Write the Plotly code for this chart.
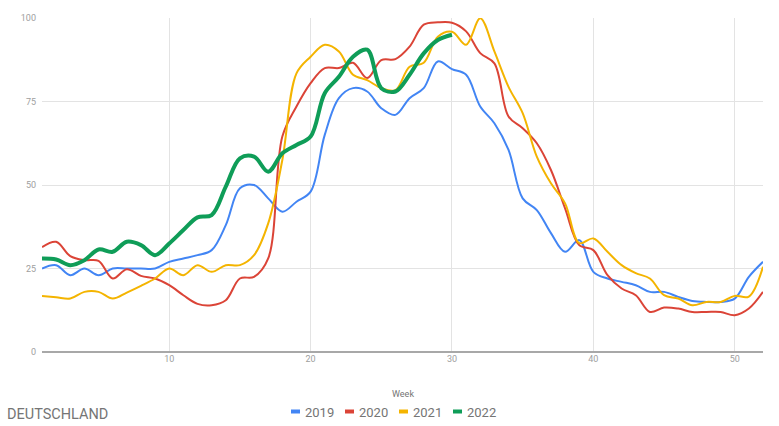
import plotly.graph_objects as go

weeks = list(range(1, 53))

y2019 = [25, 26, 23, 25, 23, 25, 25, 25, 25, 27, 28, 29, 30.5, 38, 49, 50, 46, 42, 45, 48,
         65, 76, 79, 78, 73, 71, 76, 79, 87, 84.7, 83, 73.5, 68.5, 60.5, 46, 42.5, 35.6, 30, 33.5, 24,
         22, 21, 20, 18, 18, 16.5, 15.3, 15, 15, 16, 22.5, 27]
y2020 = [31.4, 33, 28.7, 27.5, 27.3, 22, 24.8, 22.8, 22, 20, 17, 14.4, 14, 15.5, 22, 22.5, 28, 64.5, 73.5, 80.5,
         85, 85, 86.6, 82, 87.4, 87.7, 91.4, 98, 98.7, 98.6, 96, 89.5, 86.4, 70.5, 67, 62.5, 54.5, 43, 32, 30.5,
         23, 19, 17, 12, 13.3, 13, 12, 12, 12, 11, 13, 18]
y2021 = [16.8, 16.4, 16, 18, 18, 16, 17.8, 19.8, 22, 25, 23, 26, 24, 26, 26, 29, 38.5, 57.5, 83.4, 88.4,
         92, 90, 83, 81.4, 79, 78.4, 85.4, 86.6, 94.4, 95.9, 92, 99.9, 90, 79.4, 71.5, 58.5, 50.5, 44.5, 32.6, 34,
         30, 26, 23.6, 22, 17, 16, 14, 15, 15, 16.8, 16.6, 25.5]
weeks2022 = list(range(1, 31))
y2022 = [28, 27.7, 26, 27.5, 30.7, 30, 33, 32, 29, 32.5, 36.5, 40.3, 41, 49.5, 58, 58.5, 54, 59.5, 62, 64.5,
         77.5, 82.4, 88.4, 90.5, 79, 78, 83, 89.4, 93.4, 95]

series = [
    ("2019", weeks, y2019, "#4285F4", 2),
    ("2020", weeks, y2020, "#DB4437", 2),
    ("2021", weeks, y2021, "#F4B400", 2),
    ("2022", weeks2022, y2022, "#0F9D58", 4),
]

# plot-area geometry in pixels (for legend placement in paper coordinates)
W, H = 779, 426
L, R, T, B = 42, 16, 18, 74
PW, PH = W - L - R, H - T - B


def px(x):
    return (x - L) / PW


def py(y):
    return (H - B - y) / PH


fig = go.Figure()
for name, xs, ys, color, w in series:
    fig.add_trace(go.Scatter(x=xs, y=ys, name=name, mode="lines", showlegend=False,
                             line=dict(color=color, width=w, shape="spline", smoothing=1.0)))

annotations = [
    dict(text="Week", xref="paper", yref="paper", x=px(402.5), y=py(394), showarrow=False,
         xanchor="center", yanchor="middle", font=dict(size=9, color="#757575", family="Roboto")),
    dict(text="DEUTSCHLAND", xref="paper", yref="paper", x=px(5), y=py(414.5), showarrow=False,
         xanchor="left", yanchor="middle", font=dict(size=14.5, color="#757575", family="Roboto")),
]
shapes = []
for i, (name, _, _, color, _) in enumerate(series):
    x0 = 291 + 54 * i
    shapes.append(dict(type="rect", xref="paper", yref="paper", x0=px(x0), x1=px(x0 + 9),
                       y0=py(413.5), y1=py(409.5), fillcolor=color, line=dict(width=0)))
    annotations.append(dict(text=name, xref="paper", yref="paper", x=px(x0 + 12), y=py(412.5),
                            showarrow=False, xanchor="left", yanchor="middle",
                            font=dict(size=13, color="#757575", family="Roboto")))

fig.update_layout(
    width=W, height=H,
    margin=dict(l=L, r=R, t=T, b=B, autoexpand=False),
    paper_bgcolor="white", plot_bgcolor="white",
    font=dict(family="Roboto", color="#9e9e9e"),
    showlegend=False,
    xaxis=dict(range=[1, 52], tickvals=[10, 20, 30, 40, 50], showgrid=True, gridcolor="#e3e3e3",
               gridwidth=1, zeroline=False, showline=False, ticks="",
               tickfont=dict(size=9, color="#9e9e9e")),
    yaxis=dict(range=[0, 100], tickvals=[0, 25, 50, 75, 100], showgrid=True, gridcolor="#e3e3e3",
               gridwidth=1, zeroline=True, zerolinecolor="#a8a8a8", zerolinewidth=2,
               ticks="", ticklabelstandoff=5, tickfont=dict(size=9, color="#9e9e9e")),
    annotations=annotations,
    shapes=shapes,
)

fig.write_html("out.html")
